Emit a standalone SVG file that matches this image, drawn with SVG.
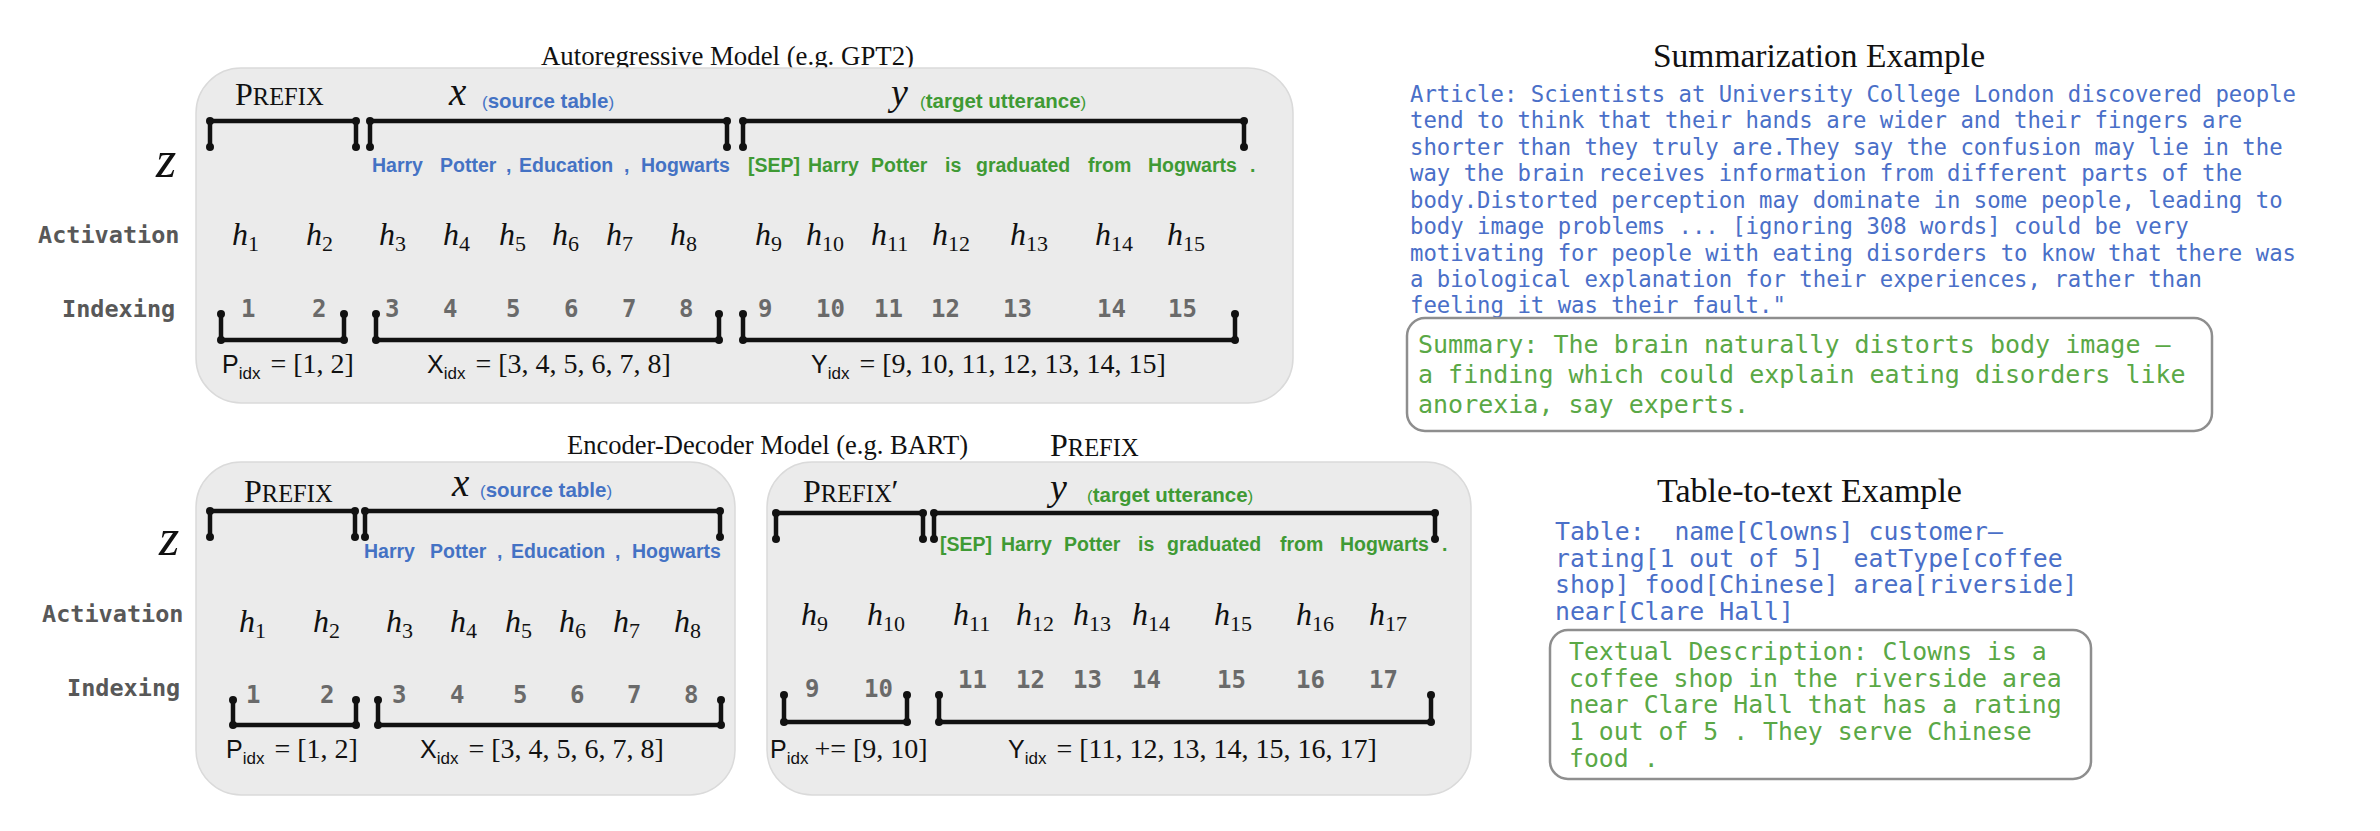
<svg xmlns="http://www.w3.org/2000/svg" width="2380" height="831" viewBox="0 0 2380 831">
  <defs>
    <marker id="dot" markerUnits="userSpaceOnUse" markerWidth="10" markerHeight="10" refX="5" refY="5" viewBox="0 0 10 10">
      <circle cx="5" cy="5" r="4" fill="#111"/>
    </marker>
    <style>
      .panel{fill:#ebebeb;stroke:#dadada;stroke-width:1.5}
      .br{fill:none;stroke:#111;stroke-width:4.5;stroke-linecap:round;stroke-linejoin:round;marker-start:url(#dot);marker-mid:url(#dot);marker-end:url(#dot)}
      .title{font-family:"Liberation Serif",serif;font-size:27px;fill:#111}
      .head{font-family:"Liberation Serif",serif;font-size:34px;fill:#111}
      .pre{font-family:"Liberation Serif",serif;font-size:32px;fill:#111}
      .sc{font-size:24.5px}
      .math{font-family:"Liberation Serif",serif;font-style:italic;fill:#111}
      .tok{font-family:"Liberation Sans",sans-serif;font-weight:bold;font-size:19.5px}
      .lbl{font-family:"Liberation Sans",sans-serif;font-weight:bold;font-size:20.5px}
      .par{font-family:"Liberation Sans",sans-serif;font-size:17px;font-weight:normal}
      .blue{fill:#4472c4}
      .green{fill:#3f9a34}
      .lab{font-family:"DejaVu Sans Mono",monospace;font-weight:bold;font-size:23.5px;fill:#585858}
      .num{font-family:"DejaVu Sans Mono",monospace;font-weight:bold;font-size:24px;fill:#6a6a6a}
      .h{font-family:"Liberation Serif",serif;font-style:italic;font-size:32px;fill:#111}
      .sub{font-style:normal;font-size:22px}
      .fs{font-family:"Liberation Sans",sans-serif;font-size:25px}
      .fi{font-family:"Liberation Sans",sans-serif;font-size:17px}
      .f{font-family:"Liberation Serif",serif;font-size:28px}
      .formula{fill:#111}
      .art{font-family:"DejaVu Sans Mono",monospace;font-size:22.3px;fill:#4a6fc8}
      .sum{font-family:"DejaVu Sans Mono",monospace;font-size:25px;fill:#5aa846}
      .tbl{font-family:"DejaVu Sans Mono",monospace;font-size:24.8px;fill:#4a6fc8}
      .box{fill:#fff;stroke:#8e8e8e;stroke-width:2.5}
    </style>
  </defs>

  <rect width="2380" height="831" fill="#fff"/>

  <!-- Autoregressive model -->
  <g id="autoregressive">
    <text class="title" x="541" y="65" textLength="373" lengthAdjust="spacingAndGlyphs">Autoregressive  Model  (e.g. GPT2)</text>
    <rect class="panel" x="196" y="68" width="1097" height="335" rx="45"/>
    <text class="pre" x="235" y="105">P<tspan class="sc">REFIX</tspan></text>
    <text class="math" x="449" y="105" font-size="39">x</text>
    <text class="lbl blue" x="482" y="108"><tspan class="par">(</tspan>source table<tspan class="par">)</tspan></text>
    <text class="math" x="891" y="105" font-size="38">y</text>
    <text class="lbl green" x="920" y="108"><tspan class="par">(</tspan>target utterance<tspan class="par">)</tspan></text>
    <path class="br" d="M210 147 V121 H356 V147"/>
    <path class="br" d="M370 147 V121 H727 V147"/>
    <path class="br" d="M743 147 V121 H1244 V147"/>
    <text class="math" x="156" y="177" font-size="52">z</text>
    <g class="tok blue">
      <text x="372" y="172">Harry</text><text x="440" y="172">Potter</text><text x="506" y="172">,</text>
      <text x="519" y="172">Education</text><text x="624" y="172">,</text><text x="641" y="172">Hogwarts</text>
    </g>
    <g class="tok green">
      <text x="748" y="172">[SEP]</text><text x="808" y="172">Harry</text><text x="871" y="172">Potter</text>
      <text x="945" y="172">is</text><text x="976" y="172">graduated</text><text x="1088" y="172">from</text>
      <text x="1148" y="172">Hogwarts</text><text x="1250" y="172">.</text>
    </g>
    <text class="lab" x="38" y="243">Activation</text>
    <text class="lab" x="62" y="317">Indexing</text>
    <g class="h">
      <text x="232" y="245">h<tspan class="sub" dy="6">1</tspan></text>
      <text x="306" y="245">h<tspan class="sub" dy="6">2</tspan></text>
      <text x="379" y="245">h<tspan class="sub" dy="6">3</tspan></text>
      <text x="443" y="245">h<tspan class="sub" dy="6">4</tspan></text>
      <text x="499" y="245">h<tspan class="sub" dy="6">5</tspan></text>
      <text x="552" y="245">h<tspan class="sub" dy="6">6</tspan></text>
      <text x="606" y="245">h<tspan class="sub" dy="6">7</tspan></text>
      <text x="670" y="245">h<tspan class="sub" dy="6">8</tspan></text>
      <text x="755" y="245">h<tspan class="sub" dy="6">9</tspan></text>
      <text x="806" y="245">h<tspan class="sub" dy="6">10</tspan></text>
      <text x="871" y="245">h<tspan class="sub" dy="6">11</tspan></text>
      <text x="932" y="245">h<tspan class="sub" dy="6">12</tspan></text>
      <text x="1010" y="245">h<tspan class="sub" dy="6">13</tspan></text>
      <text x="1095" y="245">h<tspan class="sub" dy="6">14</tspan></text>
      <text x="1167" y="245">h<tspan class="sub" dy="6">15</tspan></text>
    </g>
    <g class="num">
      <text x="241" y="317">1</text><text x="312" y="317">2</text><text x="385" y="317">3</text>
      <text x="443" y="317">4</text><text x="506" y="317">5</text><text x="564" y="317">6</text>
      <text x="622" y="317">7</text><text x="679" y="317">8</text><text x="758" y="317">9</text>
      <text x="816" y="317">10</text><text x="874" y="317">11</text><text x="931" y="317">12</text>
      <text x="1003" y="317">13</text><text x="1097" y="317">14</text><text x="1168" y="317">15</text>
    </g>
    <path class="br" d="M221 314 V340 H344 V314"/>
    <path class="br" d="M376 314 V340 H719 V314"/>
    <path class="br" d="M743 314 V340 H1235 V314"/>
    <g class="formula">
      <text x="222" y="373"><tspan class="fs">P</tspan><tspan class="fi" dy="6">idx</tspan><tspan class="f" dy="-6" dx="10">= [1, 2]</tspan></text>
      <text x="427" y="373"><tspan class="fs">X</tspan><tspan class="fi" dy="6">idx</tspan><tspan class="f" dy="-6" dx="10">= [3, 4, 5, 6, 7, 8]</tspan></text>
      <text x="811" y="373"><tspan class="fs">Y</tspan><tspan class="fi" dy="6">idx</tspan><tspan class="f" dy="-6" dx="10">= [9, 10, 11, 12, 13, 14, 15]</tspan></text>
    </g>
  </g>

  <!-- Encoder-decoder model: encoder side -->
  <g id="encoder">
    <text class="title" x="567" y="454" textLength="401" lengthAdjust="spacingAndGlyphs">Encoder-Decoder Model  (e.g. BART)</text>
    <rect class="panel" x="196" y="462" width="539" height="333" rx="45"/>
    <text class="pre" x="244" y="502">P<tspan class="sc">REFIX</tspan></text>
    <text class="math" x="452" y="496" font-size="39">x</text>
    <text class="lbl blue" x="480" y="497"><tspan class="par">(</tspan>source table<tspan class="par">)</tspan></text>
    <path class="br" d="M210 537 V511 H355 V537"/>
    <path class="br" d="M365 537 V511 H720 V537"/>
    <text class="math" x="159" y="555" font-size="52">z</text>
    <g class="tok blue">
      <text x="364" y="558">Harry</text><text x="430" y="558">Potter</text><text x="497" y="558">,</text>
      <text x="511" y="558">Education</text><text x="615" y="558">,</text><text x="632" y="558">Hogwarts</text>
    </g>
    <text class="lab" x="42" y="622">Activation</text>
    <text class="lab" x="67" y="696">Indexing</text>
    <g class="h">
      <text x="239" y="632">h<tspan class="sub" dy="6">1</tspan></text>
      <text x="313" y="632">h<tspan class="sub" dy="6">2</tspan></text>
      <text x="386" y="632">h<tspan class="sub" dy="6">3</tspan></text>
      <text x="450" y="632">h<tspan class="sub" dy="6">4</tspan></text>
      <text x="505" y="632">h<tspan class="sub" dy="6">5</tspan></text>
      <text x="559" y="632">h<tspan class="sub" dy="6">6</tspan></text>
      <text x="613" y="632">h<tspan class="sub" dy="6">7</tspan></text>
      <text x="674" y="632">h<tspan class="sub" dy="6">8</tspan></text>
    </g>
    <g class="num">
      <text x="246" y="703">1</text><text x="320" y="703">2</text><text x="392" y="703">3</text>
      <text x="450" y="703">4</text><text x="513" y="703">5</text><text x="570" y="703">6</text>
      <text x="627" y="703">7</text><text x="684" y="703">8</text>
    </g>
    <path class="br" d="M233 700 V725 H356 V700"/>
    <path class="br" d="M378 700 V725 H721 V700"/>
    <g class="formula">
      <text x="226" y="758"><tspan class="fs">P</tspan><tspan class="fi" dy="6">idx</tspan><tspan class="f" dy="-6" dx="10">= [1, 2]</tspan></text>
      <text x="420" y="758"><tspan class="fs">X</tspan><tspan class="fi" dy="6">idx</tspan><tspan class="f" dy="-6" dx="10">= [3, 4, 5, 6, 7, 8]</tspan></text>
    </g>
  </g>

  <!-- Encoder-decoder model: decoder side -->
  <g id="decoder">
    <text class="pre" x="1050" y="456">P<tspan class="sc">REFIX</tspan></text>
    <rect class="panel" x="767" y="462" width="704" height="333" rx="45"/>
    <text class="pre" x="803" y="502">P<tspan class="sc">REFIX</tspan>′</text>
    <text class="math" x="1050" y="500" font-size="38">y</text>
    <text class="lbl green" x="1087" y="502"><tspan class="par">(</tspan>target utterance<tspan class="par">)</tspan></text>
    <path class="br" d="M776 539 V513 H923 V539"/>
    <path class="br" d="M934 539 V513 H1435 V539"/>
    <g class="tok green">
      <text x="940" y="551">[SEP]</text><text x="1001" y="551">Harry</text><text x="1064" y="551">Potter</text>
      <text x="1138" y="551">is</text><text x="1167" y="551">graduated</text><text x="1280" y="551">from</text>
      <text x="1340" y="551">Hogwarts</text><text x="1442" y="551">.</text>
    </g>
    <g class="h">
      <text x="801" y="625">h<tspan class="sub" dy="6">9</tspan></text>
      <text x="867" y="625">h<tspan class="sub" dy="6">10</tspan></text>
      <text x="953" y="625">h<tspan class="sub" dy="6">11</tspan></text>
      <text x="1016" y="625">h<tspan class="sub" dy="6">12</tspan></text>
      <text x="1073" y="625">h<tspan class="sub" dy="6">13</tspan></text>
      <text x="1132" y="625">h<tspan class="sub" dy="6">14</tspan></text>
      <text x="1214" y="625">h<tspan class="sub" dy="6">15</tspan></text>
      <text x="1296" y="625">h<tspan class="sub" dy="6">16</tspan></text>
      <text x="1369" y="625">h<tspan class="sub" dy="6">17</tspan></text>
    </g>
    <g class="num">
      <text x="805" y="697">9</text><text x="864" y="697">10</text>
      <text x="958" y="688">11</text><text x="1016" y="688">12</text><text x="1073" y="688">13</text>
      <text x="1132" y="688">14</text><text x="1217" y="688">15</text><text x="1296" y="688">16</text>
      <text x="1369" y="688">17</text>
    </g>
    <path class="br" d="M784 695 V722 H907 V695"/>
    <path class="br" d="M939 695 V722 H1431 V695"/>
    <g class="formula">
      <text x="770" y="758"><tspan class="fs">P</tspan><tspan class="fi" dy="6">idx</tspan><tspan class="f" dy="-6" dx="6">+= [9, 10]</tspan></text>
      <text x="1008" y="758"><tspan class="fs">Y</tspan><tspan class="fi" dy="6">idx</tspan><tspan class="f" dy="-6" dx="10">= [11, 12, 13, 14, 15, 16, 17]</tspan></text>
    </g>
  </g>

  <!-- Summarization example -->
  <g id="summarization">
    <text class="head" x="1653" y="67" textLength="332" lengthAdjust="spacingAndGlyphs">Summarization Example</text>
    <g class="art">
      <text x="1410" y="102">Article: Scientists at University College London discovered people</text>
      <text x="1410" y="128">tend to think that their hands are wider and their fingers are</text>
      <text x="1410" y="155">shorter than they truly are.They say the confusion may lie in the</text>
      <text x="1410" y="181">way the brain receives information from different parts of the</text>
      <text x="1410" y="208">body.Distorted perception may dominate in some people, leading to</text>
      <text x="1410" y="234">body image problems ... [ignoring 308 words] could be very</text>
      <text x="1410" y="261">motivating for people with eating disorders to know that there was</text>
      <text x="1410" y="287">a biological explanation for their experiences, rather than</text>
      <text x="1410" y="313">feeling it was their fault."</text>
    </g>
    <rect class="box" x="1407" y="318" width="805" height="113" rx="18"/>
    <g class="sum">
      <text x="1418" y="353">Summary: The brain naturally distorts body image –</text>
      <text x="1418" y="383">a finding which could explain eating disorders like</text>
      <text x="1418" y="413">anorexia, say experts.</text>
    </g>
  </g>

  <!-- Table-to-text example -->
  <g id="table-to-text">
    <text class="head" x="1657" y="502" textLength="305" lengthAdjust="spacingAndGlyphs">Table-to-text Example</text>
    <g class="tbl">
      <text x="1555" y="540" xml:space="preserve">Table:  name[Clowns] customer–</text>
      <text x="1555" y="567" xml:space="preserve">rating[1 out of 5]  eatType[coffee</text>
      <text x="1555" y="593">shop] food[Chinese] area[riverside]</text>
      <text x="1555" y="620">near[Clare Hall]</text>
    </g>
    <rect class="box" x="1550" y="630" width="541" height="149" rx="18"/>
    <g class="sum" font-size="24.8">
      <text x="1569" y="660" font-size="24.8">Textual Description: Clowns is a</text>
      <text x="1569" y="687" font-size="24.8">coffee shop in the riverside area</text>
      <text x="1569" y="713" font-size="24.8">near Clare Hall that has a rating</text>
      <text x="1569" y="740" font-size="24.8">1 out of 5 . They serve Chinese</text>
      <text x="1569" y="767" font-size="24.8">food .</text>
    </g>
  </g>
</svg>
